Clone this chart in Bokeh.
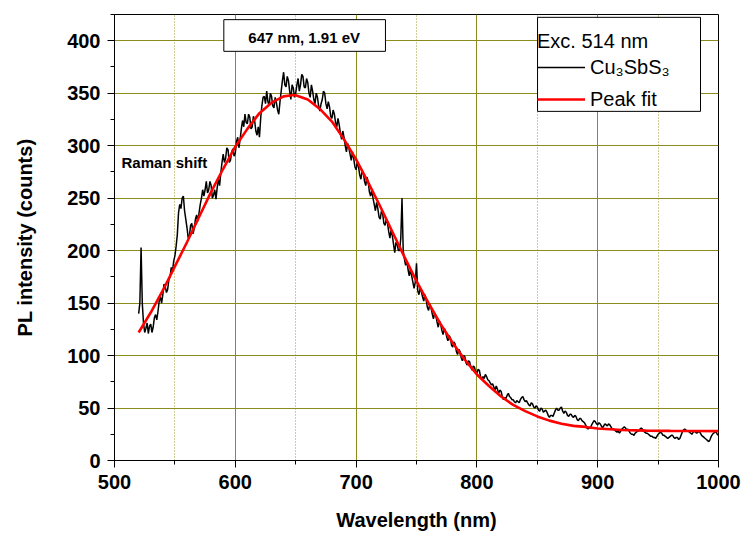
from bokeh.plotting import figure
from bokeh.models import (SingleIntervalTicker, Range1d, BoxAnnotation, Label,
                          Legend, LegendItem)
from bokeh.embed import file_html
from bokeh.resources import INLINE

FONT = "Liberation Sans"

wavelength_even_nm = [
    520, 522, 524, 526, 528, 530, 532, 534, 536, 538,
    540, 542, 544, 546, 548, 550, 552, 554, 556, 558,
    560, 562, 564, 566, 568, 570, 572, 574, 576, 578,
    580, 582, 584, 586, 588, 590, 592, 594, 596, 598,
    600, 602, 604, 606, 608, 610, 612, 614, 616, 618,
    620, 622, 624, 626, 628, 630, 632, 634, 636, 638,
    640, 642, 644, 646, 648, 650, 652, 654, 656, 658,
    660, 662, 664, 666, 668, 670, 672, 674, 676, 678,
    680, 682, 684, 686, 688, 690, 692, 694, 696, 698,
    700, 702, 704, 706, 708, 710, 712, 714, 716, 718,
    720, 722, 724, 726, 728, 730, 732, 734, 736, 738,
    740, 742, 744, 746, 748, 750, 752, 754, 756, 758,
    760, 762, 764, 766, 768, 770, 772, 774, 776, 778,
    780, 782, 784, 786, 788, 790, 792, 794, 796, 798,
    800, 802, 804, 806, 808, 810, 812, 814, 816, 818,
    820, 822, 824, 826, 828, 830, 832, 834, 836, 838,
    840, 842, 844, 846, 848, 850, 852, 854, 856, 858,
    860, 862, 864, 866, 868, 870, 872, 874, 876, 878,
    880, 882, 884, 886, 888, 890, 892, 894, 896, 898,
    900, 902, 904, 906, 908, 910, 912, 914, 916, 918,
    920, 922, 924, 926, 928, 930, 932, 934, 936, 938,
    940, 942, 944, 946, 948, 950, 952, 954, 956, 958,
    960, 962, 964, 966, 968, 970, 972, 974, 976, 978,
    980, 982, 984, 986, 988, 990, 992, 994, 996, 998,
    1000,
]
pl_counts_even = [
    140, 203, 131, 126, 121, 130, 127, 139, 142, 156,
    158, 166, 163, 175, 180, 195, 215, 244, 250, 238,
    222, 214, 226, 221, 234, 236, 250, 252, 266, 258,
    262, 253, 249, 268, 274, 292, 288, 296, 286, 297,
    293, 308, 306, 324, 330, 321, 327, 318, 324, 310,
    308, 338, 347, 352, 338, 347, 336, 341, 330, 352,
    370, 356, 362, 344, 355, 350, 364, 358, 366, 355,
    360, 346, 352, 340, 346, 333, 344, 350, 335, 337,
    326, 330, 318, 320, 306, 308, 294, 298, 286, 288,
    277, 280, 268, 274, 262, 266, 252, 250, 238, 240,
    230, 235, 224, 226, 212, 214, 198, 206, 200, 250,
    192, 190, 176, 176, 164, 188, 158, 161, 152, 153,
    143, 146, 135, 138, 127, 130, 120, 123, 114, 117,
    108, 111, 101, 104, 95, 99, 91, 94, 86, 89,
    83, 86, 77, 78, 80, 76, 72, 70, 71, 64,
    66, 58, 59, 64, 60, 58, 55, 56, 58, 61,
    56, 55, 52, 54, 50, 51, 47, 49, 47, 46,
    41, 43, 45, 50, 48, 51, 45, 46, 42, 44,
    41, 42, 38, 40, 37, 34, 30, 31, 36, 37,
    34, 35, 31, 35, 33, 34, 30, 29, 27, 26,
    30, 32, 29, 28, 25, 24, 27, 28, 31, 28,
    26, 25, 23, 22, 21, 25, 27, 24, 23, 21,
    23, 24, 21, 22, 21, 27, 30, 28, 27, 25,
    28, 26, 28, 24, 22, 20, 18, 23, 26, 27,
    24,
]
# ---- odd-nm samples ----
wavelength_odd_nm = [
    521, 523, 525, 527, 529, 531, 533, 535, 537, 539,
    541, 543, 545, 547, 549, 551, 553, 555, 557, 559,
    561, 563, 565, 567, 569, 571, 573, 575, 577, 579,
    581, 583, 585, 587, 589, 591, 593, 595, 597, 599,
    601, 603, 605, 607, 609, 611, 613, 615, 617, 619,
    621, 623, 625, 627, 629, 631, 633, 635, 637, 639,
    641, 643, 645, 647, 649, 651, 653, 655, 657, 659,
    661, 663, 665, 667, 669, 671, 673, 675, 677, 679,
    681, 683, 685, 687, 689, 691, 693, 695, 697, 699,
    701, 703, 705, 707, 709, 711, 713, 715, 717, 719,
    721, 723, 725, 727, 729, 731, 733, 735, 737, 739,
    741, 743, 745, 747, 749, 751, 753, 755, 757, 759,
    761, 763, 765, 767, 769, 771, 773, 775, 777, 779,
    781, 783, 785, 787, 789, 791, 793, 795, 797, 799,
    801, 803, 805, 807, 809, 811, 813, 815, 817, 819,
    821, 823, 825, 827, 829, 831, 833, 835, 837, 839,
    841, 843, 845, 847, 849, 851, 853, 855, 857, 859,
    861, 863, 865, 867, 869, 871, 873, 875, 877, 879,
    881, 883, 885, 887, 889, 891, 893, 895, 897, 899,
    901, 903, 905, 907, 909, 911, 913, 915, 917, 919,
    921, 923, 925, 927, 929, 931, 933, 935, 937, 939,
    941, 943, 945, 947, 949, 951, 953, 955, 957, 959,
    961, 963, 965, 967, 969, 971, 973, 975, 977, 979,
    981, 983, 985, 987, 989, 991, 993, 995, 997, 999,
]
pl_counts_odd = [
    150, 150, 122, 131, 128, 122, 136, 134, 152, 150,
    168, 160, 172, 184, 190, 204, 236, 240, 252, 230,
    212, 224, 216, 230, 228, 244, 258, 258, 255, 266,
    250, 258, 260, 262, 284, 284, 298, 284, 294, 290,
    304, 298, 316, 318, 322, 330, 316, 328, 314, 318,
    326, 346, 340, 342, 350, 338, 346, 334, 342, 362,
    358, 366, 352, 358, 346, 358, 352, 368, 356, 364,
    350, 358, 344, 350, 338, 340, 352, 340, 342, 328,
    334, 322, 326, 312, 314, 300, 302, 292, 294, 280,
    284, 272, 276, 266, 270, 256, 258, 244, 246, 232,
    238, 226, 230, 218, 220, 206, 208, 200, 212, 200,
    186, 182, 182, 170, 170, 162, 164, 156, 158, 146,
    149, 140, 140, 132, 133, 124, 126, 118, 119, 110,
    113, 104, 106, 98, 100, 93, 95, 89, 90, 84,
    87, 80, 80, 82, 77, 74, 73, 67, 68, 67,
    61, 60, 62, 61, 58, 56, 57, 55, 60, 58,
    57, 53, 55, 51, 52, 48, 50, 46, 48, 43,
    43, 42, 48, 48, 50, 47, 47, 43, 44, 42,
    43, 39, 40, 38, 36, 31, 31, 34, 38, 35,
    36, 33, 33, 34, 35, 32, 30, 28, 28, 28,
    31, 31, 30, 26, 25, 26, 28, 30, 30, 27,
    26, 24, 23, 22, 23, 26, 26, 24, 22, 22,
    24, 22, 22, 20, 24, 29, 29, 28, 26, 27,
    27, 27, 26, 23, 21, 19, 20, 25, 27, 25,
]

# ---- peak fit ----
fit_wavelength_nm = [520, 530, 540, 550, 560, 570, 580, 590, 600, 610,
                     620, 630, 640, 647, 650, 660, 670, 680, 690, 700,
                     710, 720, 730, 740, 750, 760, 770, 780, 790, 800,
                     810, 820, 830, 840, 850, 860, 870, 880, 890, 900,
                     920, 940, 960, 980, 1000]
fit_counts = [122, 141, 162, 185, 208, 232, 256, 278, 299, 316,
              331, 341, 347, 348, 348, 344, 335, 323, 306, 287,
              265, 242, 218, 194, 171, 150, 130, 112, 96, 82,
              71, 61, 53, 47, 42, 38, 35, 33, 32, 30.5,
              29, 28.5, 28.2, 28.1, 28]

series_labels = ["Cu\u2083SbS\u2083", "Peak fit"]
legend_title = "Exc. 514 nm"
peak_note = "647 nm, 1.91 eV"
raman_note = "Raman shift"

# merge the two sample sets in wavelength order
pairs = sorted(zip(wavelength_even_nm + wavelength_odd_nm,
                   pl_counts_even + pl_counts_odd))
wavelength_nm = [w for w, _ in pairs]
pl_counts = [c for _, c in pairs]

p = figure(width=743, height=539, output_backend="svg", toolbar_location=None,
           x_range=Range1d(500, 1000), y_range=Range1d(0, 425),
           min_border_left=114, min_border_right=25, min_border_top=14,
           min_border_bottom=79)
p.background_fill_color = "white"
p.border_fill_color = "white"
p.outline_line_color = "black"
p.outline_line_width = 1

# axes
p.xaxis.ticker = SingleIntervalTicker(interval=100, num_minor_ticks=2)
p.yaxis.ticker = SingleIntervalTicker(interval=50, num_minor_ticks=2)
for ax in (p.xaxis[0], p.yaxis[0]):
    ax.axis_line_color = "black"
    ax.axis_line_width = 1
    ax.major_tick_line_color = "black"
    ax.minor_tick_line_color = "black"
    ax.major_tick_out = 7
    ax.major_tick_in = 0
    ax.minor_tick_out = 4
    ax.minor_tick_in = 0
    ax.major_label_text_font = FONT
    ax.major_label_text_font_style = "bold"
    ax.major_label_text_font_size = "20px"
    ax.major_label_text_color = "black"
    ax.axis_label_text_font = FONT
    ax.axis_label_text_font_style = "bold"
    ax.axis_label_text_font_size = "20px"
    ax.axis_label_text_color = "black"
p.xaxis.axis_label = "Wavelength (nm)"
p.yaxis.axis_label = "PL intensity (counts)"
p.xaxis.major_label_standoff = 7
p.xaxis.axis_label_standoff = 17
p.yaxis.major_label_standoff = 7
p.yaxis.axis_label_standoff = 28

# grid
p.xgrid.grid_line_color = "#8c8c1e"
p.xgrid.grid_line_width = 1
p.xgrid.minor_grid_line_color = "#9a9a30"
p.xgrid.minor_grid_line_dash = "1 2"
p.ygrid.grid_line_color = "#8c8c1e"
p.ygrid.grid_line_width = 1

# data
data_r = p.line(wavelength_nm, pl_counts, line_color="black", line_width=1.5)
fit_r = p.line(fit_wavelength_nm, fit_counts, line_color="#ff0000", line_width=2.6)

# annotation boxes
peak_box = BoxAnnotation(left=590.5, right=724.3, bottom=389.9, top=420.1,
                         fill_color="white", fill_alpha=1.0,
                         line_color="black", line_alpha=1.0, line_width=1)
p.add_layout(peak_box)
p.add_layout(Label(x=657, y=403.2, text=peak_note, text_align="center",
                   text_baseline="middle", text_font=FONT,
                   text_font_style="bold", text_font_size="15px",
                   text_color="black"))
p.add_layout(Label(x=505.8, y=284, text=raman_note, text_align="left",
                   text_baseline="middle", text_font=FONT,
                   text_font_style="bold", text_font_size="15px",
                   text_color="black"))

legend_box = BoxAnnotation(left=850.2, right=985.1, bottom=332.7, top=422.3,
                           fill_color="white", fill_alpha=1.0,
                           line_color="black", line_alpha=1.0, line_width=1)
p.add_layout(legend_box)

legend = Legend(items=[LegendItem(label=series_labels[0], renderers=[data_r]),
                       LegendItem(label=series_labels[1], renderers=[fit_r])],
                title=legend_title, location=(423, 349), margin=0, padding=0,
                spacing=8, label_height=24, glyph_height=24, glyph_width=48,
                label_standoff=5, title_standoff=2,
                background_fill_alpha=0, border_line_alpha=0,
                label_text_font=FONT, label_text_font_size="20px",
                title_text_font=FONT, title_text_font_size="20px",
                title_text_font_style="normal", label_text_color="black",
                title_text_color="black")
p.add_layout(legend)

open("out.html", "w").write(file_html(p, INLINE))
